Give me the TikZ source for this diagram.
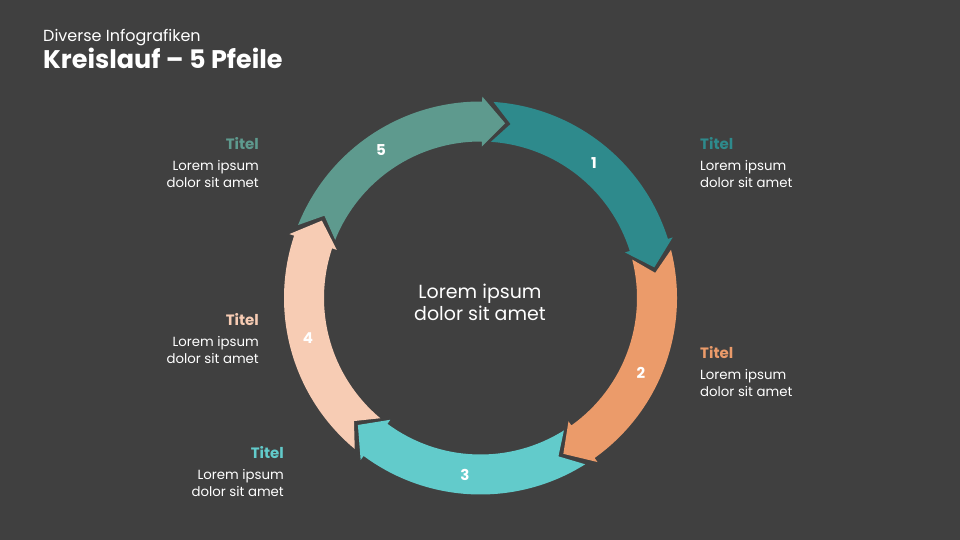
\documentclass[tikz,border=0pt]{standalone}
\usepackage{fontspec}
\setmainfont{Poppins}
\definecolor{bg}{HTML}{404040}
\definecolor{cA}{HTML}{2E8A8C}
\definecolor{cB}{HTML}{EB9B6A}
\definecolor{cC}{HTML}{62CBCB}
\definecolor{cD}{HTML}{F7CCB4}
\definecolor{cE}{HTML}{5E9A8E}
\begin{document}
\begin{tikzpicture}[x=1pt,y=-1pt,
  lab/.style={inner sep=0pt, text=white, font=\fontsize{13.3}{16}\selectfont},
  ttl/.style={inner sep=0pt, font=\fontsize{15}{18}\selectfont\bfseries},
  num/.style={inner sep=0pt, text=white, font=\fontsize{15}{18}\selectfont\bfseries}]
\fill[bg] (0,0) rectangle (960,540);
\useasboundingbox (0,0) rectangle (960,540);
\begin{scope}[shift={(480.5,298)}]
\foreach \T/\c in {10/cA,-62/cB,-134/cC,-206/cD,-278/cE}{
  \pgfmathsetmacro\Ta{\T+76.2}
  \pgfmathsetmacro\Tn{\T+70.2}
  \pgfmathsetmacro\B{\T+7.5}
  \fill[\c] (\Ta:196.5pt) arc[start angle=\Ta, end angle=\B, radius=196.5pt]
    -- (\B:201.5pt) -- (\T:176.5pt) -- (\B:151.5pt) -- (\B:156.5pt)
    arc[start angle=\B, end angle=\Ta, radius=156.5pt]
    -- (\Tn:176.5pt) -- cycle;
}
\end{scope}
% header
\node[inner sep=0pt, text=white, anchor=base west, font=\fontsize{16}{19}\selectfont] (sub) at (43,42) {Diverse Infografiken};
\node[inner sep=0pt, text=white, anchor=base west, font=\fontsize{25.5}{29}\selectfont\bfseries] (title) at (43,68.5) {Kreislauf – 5 Pfeile};
% center
\node[inner sep=0pt, text=white, anchor=base, font=\fontsize{19}{22}\selectfont] (c1) at (480,298.3) {Lorem ipsum};
\node[inner sep=0pt, text=white, anchor=base, font=\fontsize{19}{22}\selectfont] (c2) at (480,320.7) {dolor sit amet};
% numbers
\node[num] (n1) at (594,163) {1};
\node[num] (n2) at (641,373) {2};
\node[num] (n3) at (465,475) {3};
\node[num] (n4) at (308,338) {4};
\node[num] (n5) at (381,150) {5};
% label 1
\node[ttl, text=cA, anchor=base west] (t1) at (700,149.5) {Titel};
\node[lab, anchor=base west] (t1a) at (700,170.5) {Lorem ipsum};
\node[lab, anchor=base west] (t1b) at (700,187.5) {dolor sit amet};
% label 2
\node[ttl, text=cB, anchor=base west] (t2) at (700,358.5) {Titel};
\node[lab, anchor=base west] (t2a) at (700,379.5) {Lorem ipsum};
\node[lab, anchor=base west] (t2b) at (700,396.5) {dolor sit amet};
% label 3
\node[ttl, text=cC, anchor=base east] (t3) at (284,458.5) {Titel};
\node[lab, anchor=base east] (t3a) at (284,479.5) {Lorem ipsum};
\node[lab, anchor=base east] (t3b) at (284,496.5) {dolor sit amet};
% label 4
\node[ttl, text=cD, anchor=base east] (t4) at (259,325.5) {Titel};
\node[lab, anchor=base east] (t4a) at (259,346.5) {Lorem ipsum};
\node[lab, anchor=base east] (t4b) at (259,363.5) {dolor sit amet};
% label 5
\node[ttl, text=cE, anchor=base east] (t5) at (259,149.5) {Titel};
\node[lab, anchor=base east] (t5a) at (259,170.5) {Lorem ipsum};
\node[lab, anchor=base east] (t5b) at (259,187.5) {dolor sit amet};
\end{tikzpicture}
\end{document}
